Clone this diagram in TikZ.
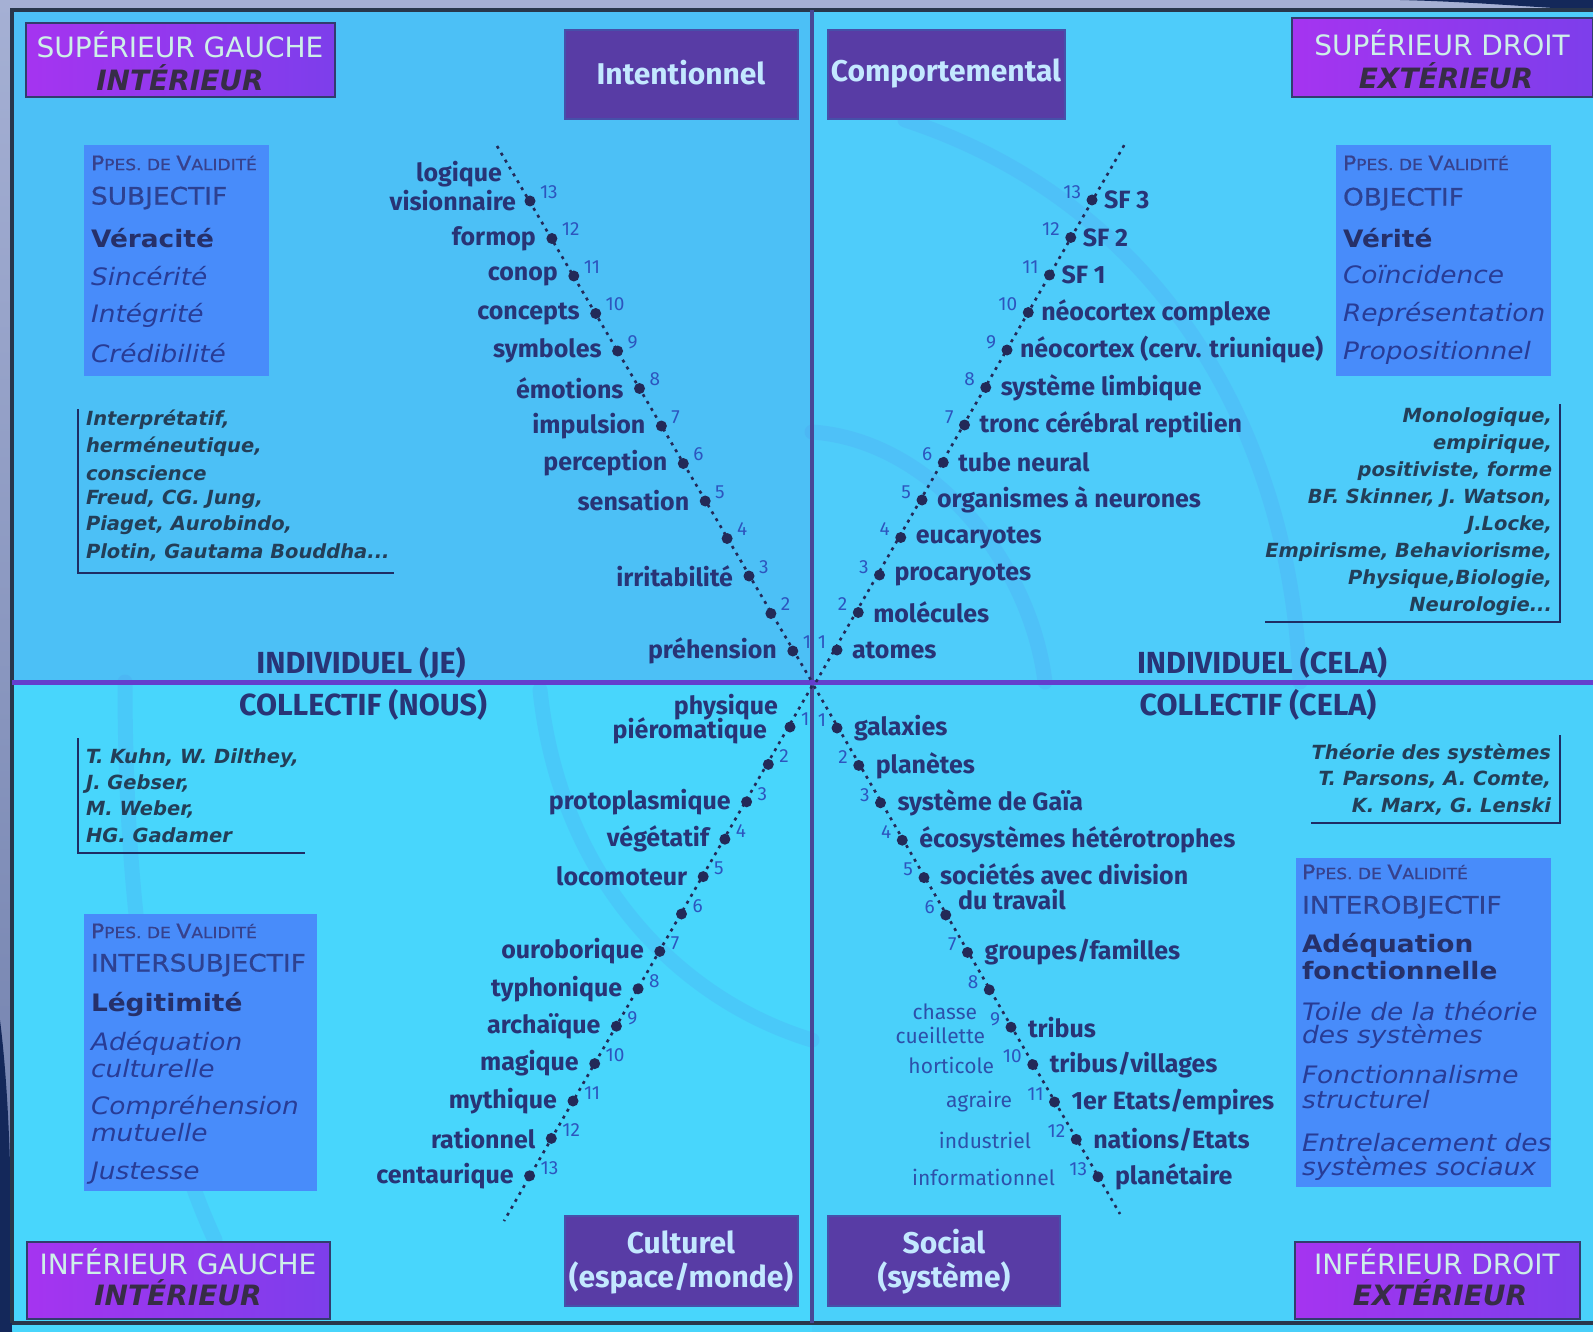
\documentclass[tikz,border=0pt]{standalone}
\usepackage{fontspec}
\setmainfont{DejaVu Sans}
\newfontfamily\firaf{Fira Sans}
\newfontfamily\valf[FakeStretch=1.1]{DejaVu Sans}
\newfontfamily\valbf[FakeStretch=1.1,FakeBold=0.8]{DejaVu Sans}
\newfontfamily\thf{DejaVu Sans}
\newfontfamily\cornf{DejaVu Sans}
\usetikzlibrary{calc}
\definecolor{ulq}{RGB}{76,192,246}
\definecolor{urq}{RGB}{78,204,250}
\definecolor{llq}{RGB}{72,214,252}
\definecolor{lrq}{RGB}{74,208,250}
\definecolor{framec}{RGB}{40,55,75}
\definecolor{vdiv}{RGB}{72,72,150}
\definecolor{hdiv}{RGB}{100,62,205}
\definecolor{cornA}{RGB}{165,52,240}
\definecolor{cornB}{RGB}{125,62,235}
\definecolor{cornedge}{RGB}{50,60,110}
\definecolor{corntx}{RGB}{205,240,232}
\definecolor{corndk}{RGB}{55,45,70}
\definecolor{dkboxc}{RGB}{88,60,165}
\definecolor{dkedge}{RGB}{70,80,170}
\definecolor{dktxc}{RGB}{195,232,255}
\definecolor{valboxc}{RGB}{72,140,250}
\definecolor{valscc}{RGB}{55,65,140}
\definecolor{valcapc}{RGB}{45,65,145}
\definecolor{valboldc}{RGB}{38,48,105}
\definecolor{valitc}{RGB}{40,60,150}
\definecolor{thc}{RGB}{35,62,88}
\definecolor{rulec}{RGB}{30,45,100}
\definecolor{lblc}{RGB}{40,52,118}
\definecolor{numc}{RGB}{45,85,190}
\definecolor{smallc}{RGB}{45,80,170}
\definecolor{dotc}{RGB}{35,42,88}
\definecolor{arcc}{RGB}{80,150,240}
\definecolor{edgeA}{RGB}{165,176,212}
\definecolor{edgeB}{RGB}{110,125,170}
\definecolor{navy}{RGB}{20,40,90}
\newcommand\ppesv{{\fontsize{20}{20}\selectfont P}{\fontsize{15.5}{16}\selectfont PES. DE }{\fontsize{20}{20}\selectfont V}{\fontsize{15.5}{16}\selectfont ALIDITÉ}}
\begin{document}
\begin{tikzpicture}[x=1pt,y=-1pt,
  every node/.style={inner sep=0pt, outer sep=0pt},
  lbl/.style={font=\firaf\bfseries\fontsize{25}{27}\selectfont, text=lblc},
  num/.style={font=\firaf\fontsize{19}{19}\selectfont, text=numc},
  sml/.style={font=\firaf\fontsize{21}{21}\selectfont, text=smallc, anchor=east},
  dotn/.style={circle, fill=dotc, minimum size=11pt},
  dotl/.style={draw=dotc, line width=2.6pt, dash pattern=on 3pt off 5pt},
  head/.style={font=\firaf\bfseries\fontsize{30.5}{31}\selectfont, text=lblc},
  vsc/.style={font=\valbf, text=valscc, anchor=west},
  vcap/.style={font=\valbf\fontsize{24}{24}\selectfont, text=valcapc, anchor=west},
  vbold/.style={font=\valf\bfseries\fontsize{24}{24}\selectfont, text=valboldc, anchor=west},
  vit/.style={font=\valf\itshape\fontsize{24}{24}\selectfont, text=valitc, anchor=west},
  theo/.style={font=\thf\bfseries\itshape\fontsize{19.5}{20}\selectfont, text=thc},
  rulest/.style={draw=rulec, line width=2pt},
  vbox/.style={fill=valboxc},
  dkbox/.style={fill=dkboxc, draw=dkedge, line width=1.5pt},
  dktx/.style={font=\firaf\bfseries\fontsize{30}{30}\selectfont, text=dktxc},
  cbox/.style={left color=cornA, right color=cornB, draw=cornedge, line width=1.5pt},
  ctop/.style={font=\cornf\fontsize{28}{28}\selectfont, text=corntx},
  cbot/.style={font=\cornf\bfseries\itshape\fontsize{28}{28}\selectfont, text=corndk},
  arcst/.style={draw=arcc, line width=15pt, opacity=0.2, line cap=round}
]
\useasboundingbox (0,0) rectangle (1593,1332);
% background and quadrants
\fill[top color=edgeA, bottom color=edgeB] (0,0) rectangle (1593,1332);
\fill[ulq] (12,10) rectangle (812,682);
\fill[urq] (812,10) rectangle (1593,682);
\fill[llq] (12,682) rectangle (812,1332);
\fill[lrq] (812,682) rectangle (1593,1332);
\fill[navy] (1400,0) .. controls (1480,2) and (1540,8) .. (1593,10) -- (1593,0) -- cycle;
\fill[navy] (0,1020) .. controls (10,1100) and (12,1200) .. (12,1332) -- (0,1332) -- cycle;
% faint spiral arcs
\begin{scope}
\clip (12,10) rectangle (1593,1323);
\draw[arcst] (812,432) .. controls (930,440) and (1030,560) .. (1045,682);
\draw[arcst] (905,120) .. controls (1150,200) and (1290,420) .. (1300,682);
\draw[arcst] (125,682) .. controls (125,900) and (150,1100) .. (215,1240);
\draw[arcst] (540,690) .. controls (560,880) and (680,1000) .. (812,1040);
\end{scope}
% frame and dividers
\draw[framec, line width=4pt] (12,1323) -- (12,10) -- (1593,10);
\draw[framec, line width=4pt] (12,1323) -- (1593,1323);
\draw[vdiv, line width=4pt] (812,10) -- (812,1323);
\draw[hdiv, line width=5pt] (12,682) -- (1593,682);
% corner boxes
\node[cbox, minimum width=309pt, minimum height=74pt] (ulc) at (180.5,60) {};
\node[ctop] (ulc1) at (180,45) {SUPÉRIEUR GAUCHE};
\node[cbot] (ulc2) at (180,78) {INTÉRIEUR};
\node[cbox, minimum width=301pt, minimum height=79pt] (urc) at (1442.5,57.5) {};
\node[ctop] (urc1) at (1442,43) {SUPÉRIEUR DROIT};
\node[cbot] (urc2) at (1446,76) {EXTÉRIEUR};
\node[cbox, minimum width=303pt, minimum height=77pt] (llc) at (178.5,1280.5) {};
\node[ctop] (llc1) at (178,1262) {INFÉRIEUR GAUCHE};
\node[cbot] (llc2) at (178,1293) {INTÉRIEUR};
\node[cbox, minimum width=285pt, minimum height=77pt] (lrc) at (1437.5,1280.5) {};
\node[ctop] (lrc1) at (1437,1262) {INFÉRIEUR DROIT};
\node[cbot] (lrc2) at (1440,1293) {EXTÉRIEUR};
% dark boxes
\node[dkbox, minimum width=233pt, minimum height=89pt] (intb) at (681.5,74.5) {};
\node[dktx] (intt) at (681,73) {Intentionnel};
\node[dkbox, minimum width=237pt, minimum height=89pt] (comb) at (946.5,74.5) {};
\node[dktx] (comt) at (946,73) {Comportemental};
\node[dkbox, minimum width=233pt, minimum height=90pt] (culb) at (681.5,1261) {};
\node[dktx] (cult1) at (681,1242) {Culturel};
\node[dktx] (cult2) at (681,1278) {(espace/monde)};
\node[dkbox, minimum width=232pt, minimum height=90pt] (socb) at (944,1261) {};
\node[dktx] (soct1) at (944,1242) {Social};
\node[dktx] (soct2) at (944,1278) {(système)};
% validity boxes
\node[vbox, minimum width=185pt, minimum height=231pt] (ulvb) at (176.5,260.5) {};
\node[vsc] (ulv0) at (91,163) {\ppesv};
\node[vcap] (ulv1) at (91,198) {SUBJECTIF};
\node[vbold] (ulv2) at (91,238) {Véracité};
\node[vit] (ulv3) at (91,276) {Sincérité};
\node[vit] (ulv4) at (91,315) {Intégrité};
\node[vit] (ulv5) at (91,353) {Crédibilité};
\node[vbox, minimum width=215pt, minimum height=231pt] (urvb) at (1443.5,260.5) {};
\node[vsc] (urv0) at (1343,163) {\ppesv};
\node[vcap] (urv1) at (1343,199) {OBJECTIF};
\node[vbold] (urv2) at (1343,238) {Vérité};
\node[vit] (urv3) at (1343,275) {Coïncidence};
\node[vit] (urv4) at (1343,314) {Représentation};
\node[vit] (urv5) at (1343,353) {Propositionnel};
\node[vbox, minimum width=233pt, minimum height=277pt] (llvb) at (200.5,1052.5) {};
\node[vsc] (llv0) at (91,931) {\ppesv};
\node[vcap] (llv1) at (91,965) {INTERSUBJECTIF};
\node[vbold] (llv2) at (91,1004) {Légitimité};
\node[vit] (llv3) at (91,1043) {Adéquation};
\node[vit] (llv4) at (91,1069) {culturelle};
\node[vit] (llv5) at (91,1107) {Compréhension};
\node[vit] (llv6) at (91,1133) {mutuelle};
\node[vit] (llv7) at (91,1173) {Justesse};
\node[vbox, minimum width=255pt, minimum height=329pt] (lrvb) at (1423.5,1022.5) {};
\node[vsc] (lrv0) at (1302,872) {\ppesv};
\node[vcap] (lrv1) at (1302,907) {INTEROBJECTIF};
\node[vbold] (lrv2) at (1302,945) {Adéquation};
\node[vbold] (lrv3) at (1302,971) {fonctionnelle};
\node[vit] (lrv4) at (1302,1011) {Toile de la théorie};
\node[vit] (lrv5) at (1302,1036) {des systèmes};
\node[vit] (lrv6) at (1302,1075) {Fonctionnalisme};
\node[vit] (lrv7) at (1302,1100) {structurel};
\node[vit] (lrv8) at (1302,1143) {Entrelacement des};
\node[vit] (lrv9) at (1302,1168) {systèmes sociaux};
% theory notes
\node[theo, anchor=west] (thul1) at (86,420) {Interprétatif,};
\node[theo, anchor=west] (thul2) at (86,446.4) {herméneutique,};
\node[theo, anchor=west] (thul3) at (86,472.8) {conscience};
\node[theo, anchor=west] (thul4) at (86,499.2) {Freud, CG. Jung,};
\node[theo, anchor=west] (thul5) at (86,525.6) {Piaget, Aurobindo,};
\node[theo, anchor=west] (thul6) at (86,552) {Plotin, Gautama Bouddha...};
\node[theo, anchor=east] (thur1) at (1552,417) {Monologique,};
\node[theo, anchor=east] (thur2) at (1552,444) {empirique,};
\node[theo, anchor=east] (thur3) at (1552,471) {positiviste, forme};
\node[theo, anchor=east] (thur4) at (1552,498) {BF. Skinner, J. Watson,};
\node[theo, anchor=east] (thur5) at (1552,525) {J.Locke,};
\node[theo, anchor=east] (thur6) at (1552,552) {Empirisme, Behaviorisme,};
\node[theo, anchor=east] (thur7) at (1552,579) {Physique,Biologie,};
\node[theo, anchor=east] (thur8) at (1552,606) {Neurologie...};
\node[theo, anchor=west] (thll1) at (86,758) {T. Kuhn, W. Dilthey,};
\node[theo, anchor=west] (thll2) at (86,783.7) {J. Gebser,};
\node[theo, anchor=west] (thll3) at (86,809.4) {M. Weber,};
\node[theo, anchor=west] (thll4) at (86,835.1) {HG. Gadamer};
\node[theo, anchor=east] (thlr1) at (1551,754) {Théorie des systèmes};
\node[theo, anchor=east] (thlr2) at (1551,780) {T. Parsons, A. Comte,};
\node[theo, anchor=east] (thlr3) at (1551,806) {K. Marx, G. Lenski};
\coordinate (rul1) at (78,409); \coordinate (rul2) at (78,573); \coordinate (rul3) at (394,573);
\draw[rulest] (rul1) -- (rul2) -- (rul3);
\coordinate (rur1) at (1560,404); \coordinate (rur2) at (1560,622); \coordinate (rur3) at (1265,622);
\draw[rulest] (rur1) -- (rur2) -- (rur3);
\coordinate (rll1) at (78,738); \coordinate (rll2) at (78,853); \coordinate (rll3) at (305,853);
\draw[rulest] (rll1) -- (rll2) -- (rll3);
\coordinate (rlr1) at (1560,735); \coordinate (rlr2) at (1560,823); \coordinate (rlr3) at (1311,823);
\draw[rulest] (rlr1) -- (rlr2) -- (rlr3);
% quadrant headings
\node[head] (hul) at (361,663) {INDIVIDUEL (JE)};
\node[head] (hll) at (363,705) {COLLECTIF (NOUS)};
\node[head] (hur) at (1262,663) {INDIVIDUEL (CELA)};
\node[head] (hlr) at (1258,705) {COLLECTIF (CELA)};
% developmental lines
\foreach \i in {1,...,13}{
  \coordinate (ulp\i) at ({530+(13-\i)*21.9},{201+(13-\i)*37.5});
  \coordinate (urp\i) at ({837+(\i-1)*21.25},{650-(\i-1)*37.5});
  \coordinate (llp\i) at ({790-(\i-1)*21.7},{727+(\i-1)*37.4});
  \coordinate (lrp\i) at ({837+(\i-1)*21.75},{728+(\i-1)*37.4});
}
\coordinate (ulA) at (497,146); \coordinate (ulB) at (812,682);
\coordinate (urA) at (816,682); \coordinate (urB) at (1126,142);
\coordinate (llA) at (812,686); \coordinate (llB) at (504,1221);
\coordinate (lrA) at (814,686); \coordinate (lrB) at (1120,1214);
\draw[dotl] (ulA) -- (ulB);
\draw[dotl] (urA) -- (urB);
\draw[dotl] (llA) -- (llB);
\draw[dotl] (lrA) -- (lrB);
\foreach \i in {1,...,13}{
  \node[dotn] (uld\i) at (ulp\i) {};
  \node[dotn] (urd\i) at (urp\i) {};
  \node[dotn] (lld\i) at (llp\i) {};
  \node[dotn] (lrd\i) at (lrp\i) {};
  \node[num, anchor=west] (uln\i) at ($(ulp\i)+(10,-9)$) {\i};
  \node[num, anchor=east] (urn\i) at ($(urp\i)+(-11,-8)$) {\i};
  \node[num, anchor=west] (lln\i) at ($(llp\i)+(11,-8)$) {\i};
  \node[num, anchor=east] (lrn\i) at ($(lrp\i)+(-11,-8)$) {\i};
}
% UL labels
\node[lbl, anchor=east] (ult13b) at ($(ulp13)+(-28,-27)$) {logique};
\node[lbl, anchor=east] (ult13) at ($(ulp13)+(-14,0)$) {visionnaire};
\node[lbl, anchor=east] (ult12) at ($(ulp12)+(-16,0)$) {formop};
\node[lbl, anchor=east] (ult11) at ($(ulp11)+(-16,0)$) {conop};
\node[lbl, anchor=east] (ult10) at ($(ulp10)+(-16,0)$) {concepts};
\node[lbl, anchor=east] (ult9) at ($(ulp9)+(-16,0)$) {symboles};
\node[lbl, anchor=east] (ult8) at ($(ulp8)+(-16,0)$) {émotions};
\node[lbl, anchor=east] (ult7) at ($(ulp7)+(-16,0)$) {impulsion};
\node[lbl, anchor=east] (ult6) at ($(ulp6)+(-16,0)$) {perception};
\node[lbl, anchor=east] (ult5) at ($(ulp5)+(-16,0)$) {sensation};
\node[lbl, anchor=east] (ult3) at ($(ulp3)+(-16,0)$) {irritabilité};
\node[lbl, anchor=east] (ult1) at ($(ulp1)+(-16,0)$) {préhension};
% UR labels
\node[lbl, anchor=west] (urt1) at ($(urp1)+(15,0)$) {atomes};
\node[lbl, anchor=west] (urt2) at ($(urp2)+(15,0)$) {molécules};
\node[lbl, anchor=west] (urt3) at ($(urp3)+(15,0)$) {procaryotes};
\node[lbl, anchor=west] (urt4) at ($(urp4)+(15,0)$) {eucaryotes};
\node[lbl, anchor=west] (urt5) at ($(urp5)+(15,0)$) {organismes à neurones};
\node[lbl, anchor=west] (urt6) at ($(urp6)+(15,0)$) {tube neural};
\node[lbl, anchor=west] (urt7) at ($(urp7)+(15,0)$) {tronc cérébral reptilien};
\node[lbl, anchor=west] (urt8) at ($(urp8)+(15,0)$) {système limbique};
\node[lbl, anchor=west] (urt9) at ($(urp9)+(13,0)$) {néocortex (cerv. triunique)};
\node[lbl, anchor=west] (urt10) at ($(urp10)+(13,0)$) {néocortex complexe};
\node[lbl, anchor=west] (urt11) at ($(urp11)+(12,0)$) {SF 1};
\node[lbl, anchor=west] (urt12) at ($(urp12)+(12,0)$) {SF 2};
\node[lbl, anchor=west] (urt13) at ($(urp13)+(12,0)$) {SF 3};
% LL labels
\node[lbl, anchor=east] (llt1a) at ($(llp1)+(-12,-20)$) {physique};
\node[lbl, anchor=east] (llt1b) at ($(llp1)+(-23,4)$) {piéromatique};
\node[lbl, anchor=east] (llt3) at ($(llp3)+(-16,0)$) {protoplasmique};
\node[lbl, anchor=east] (llt4) at ($(llp4)+(-16,0)$) {végétatif};
\node[lbl, anchor=east] (llt5) at ($(llp5)+(-16,0)$) {locomoteur};
\node[lbl, anchor=east] (llt7) at ($(llp7)+(-16,0)$) {ouroborique};
\node[lbl, anchor=east] (llt8) at ($(llp8)+(-16,0)$) {typhonique};
\node[lbl, anchor=east] (llt9) at ($(llp9)+(-16,0)$) {archaïque};
\node[lbl, anchor=east] (llt10) at ($(llp10)+(-16,0)$) {magique};
\node[lbl, anchor=east] (llt11) at ($(llp11)+(-16,0)$) {mythique};
\node[lbl, anchor=east] (llt12) at ($(llp12)+(-16,0)$) {rationnel};
\node[lbl, anchor=east] (llt13) at ($(llp13)+(-16,0)$) {centaurique};
% LR labels
\node[lbl, anchor=west] (lrt1) at ($(lrp1)+(17,0)$) {galaxies};
\node[lbl, anchor=west] (lrt2) at ($(lrp2)+(17,0)$) {planètes};
\node[lbl, anchor=west] (lrt3) at ($(lrp3)+(17,0)$) {système de Gaïa};
\node[lbl, anchor=west] (lrt4) at ($(lrp4)+(17,0)$) {écosystèmes hétérotrophes};
\node[lbl, anchor=west] (lrt5a) at ($(lrp5)+(16,-3)$) {sociétés avec division};
\node[lbl, anchor=west] (lrt5b) at ($(lrp5)+(34,22)$) {du travail};
\node[lbl, anchor=west] (lrt7) at ($(lrp7)+(17,0)$) {groupes/familles};
\node[lbl, anchor=west] (lrt9) at ($(lrp9)+(17,0)$) {tribus};
\node[lbl, anchor=west] (lrt10) at ($(lrp10)+(17,0)$) {tribus/villages};
\node[lbl, anchor=west] (lrt11) at ($(lrp11)+(17,0)$) {1er Etats/empires};
\node[lbl, anchor=west] (lrt12) at ($(lrp12)+(17,0)$) {nations/Etats};
\node[lbl, anchor=west] (lrt13) at ($(lrp13)+(17,0)$) {planétaire};
\node[sml] (lrs9a) at (977,1012) {chasse};
\node[sml] (lrs9b) at (985,1035) {cueillette};
\node[sml] (lrs10) at (994,1065) {horticole};
\node[sml] (lrs11) at (1012,1102) {agraire};
\node[sml] (lrs12) at (1031,1140) {industriel};
\node[sml] (lrs13) at (1055,1177) {informationnel};
\end{tikzpicture}
\end{document}
